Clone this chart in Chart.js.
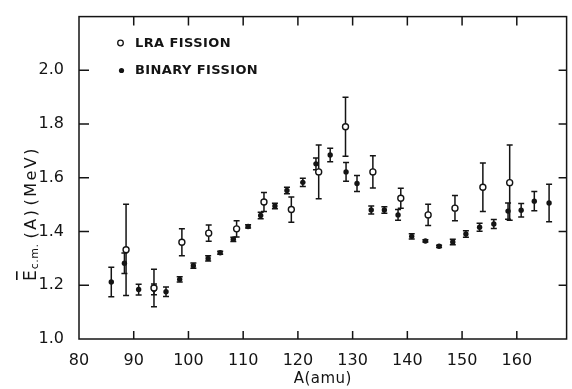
<!DOCTYPE html>
<html>
<head>
<meta charset="utf-8">
<script src="https://cdn.jsdelivr.net/npm/chart.js@4.4.0/dist/chart.umd.min.js"></script>
<style>
  html, body { margin: 0; padding: 0; background: #fff; }
  #wrap { width: 572px; height: 389px; }
</style>
</head>
<body>
<div id="wrap"><canvas id="myChart" width="572" height="389"></canvas></div>
<script>
// LRA fission (open circles)
const lraMass   = [88.6, 93.7, 98.8, 103.7, 108.8, 113.8, 118.8, 123.8, 128.7, 133.7, 138.8, 143.8, 148.7, 153.8, 158.7]
const lraEnergy = [1.332, 1.19, 1.36, 1.394, 1.41, 1.51, 1.482, 1.622, 1.79, 1.622, 1.524, 1.462, 1.487, 1.565, 1.582]
const lraErr    = [0.17, 0.07, 0.05, 0.03, 0.03, 0.035, 0.047, 0.1, 0.11, 0.06, 0.037, 0.04, 0.047, 0.09, 0.14]

// binary fission (filled dots)
const binMass   = [85.9, 88.3, 90.9, 93.7, 95.9, 98.4, 100.9, 103.6, 105.8, 108.2, 110.9, 113.2, 115.8, 118.0, 120.9,
                   123.3, 125.9, 128.8, 130.8, 133.4, 135.8, 138.3, 140.8, 143.3, 145.8, 148.3, 150.7, 153.2, 155.8,
                   158.4, 160.8, 163.2, 165.9]
const binEnergy = [1.212, 1.282, 1.184, 1.185, 1.176, 1.222, 1.273, 1.30, 1.321, 1.371, 1.419, 1.46, 1.495, 1.553, 1.583,
                   1.652, 1.685, 1.622, 1.579, 1.48, 1.48, 1.462, 1.382, 1.365, 1.345, 1.361, 1.391, 1.416, 1.428,
                   1.476, 1.479, 1.513, 1.506]
const binErr    = [0.055, 0.038, 0.02, 0.02, 0.018, 0.01, 0.01, 0.01, 0.006, 0.008, 0.006, 0.012, 0.01, 0.012, 0.015,
                   0.022, 0.025, 0.035, 0.03, 0.015, 0.012, 0.02, 0.01, 0.004, 0.004, 0.01, 0.012, 0.015, 0.017,
                   0.03, 0.025, 0.036, 0.07]

const xTicks = [80, 90, 100, 110, 120, 130, 140, 150, 160]
const yTicks = [1.0, 1.2, 1.4, 1.6, 1.8, 2.0]
const legendLabels = ["LRA FISSION", "BINARY FISSION"]
const xTitle = "A(amu)"

const toPoints = (xs, ys) => xs.map((v, i) => ({ x: v, y: ys[i] }))
const ink = '#141414'

const errorBars = {
  id: 'errorBars',
  beforeDatasetsDraw(chart) {
    const ctx = chart.ctx, xs = chart.scales.x, ys = chart.scales.y
    ctx.save()
    ctx.strokeStyle = ink
    ctx.lineWidth = 1.5
    chart.data.datasets.forEach(ds => {
      ds.data.forEach((p, i) => {
        const e = ds.errors[i]
        const px = xs.getPixelForValue(p.x)
        const top = ys.getPixelForValue(p.y + e)
        const bot = ys.getPixelForValue(p.y - e)
        ctx.beginPath()
        ctx.moveTo(px, top); ctx.lineTo(px, bot)
        ctx.moveTo(px - 3, top); ctx.lineTo(px + 3, top)
        ctx.moveTo(px - 3, bot); ctx.lineTo(px + 3, bot)
        ctx.stroke()
      })
    })
    ctx.restore()
  }
}

const frame = {
  id: 'frame',
  afterDraw(chart) {
    const ctx = chart.ctx, a = chart.chartArea
    const xs = chart.scales.x, ys = chart.scales.y
    ctx.save()
    ctx.strokeStyle = ink
    ctx.lineWidth = 1.5
    ctx.strokeRect(a.left, a.top, a.right - a.left, a.bottom - a.top)
    ctx.beginPath()
    xTicks.forEach(v => {
      const px = xs.getPixelForValue(v)
      if (v === xTicks[0]) return
      ctx.moveTo(px, a.bottom); ctx.lineTo(px, a.bottom - 8)
      ctx.moveTo(px, a.top); ctx.lineTo(px, a.top + 9)
    })
    yTicks.forEach(v => {
      const py = ys.getPixelForValue(v)
      if (v === yTicks[0]) return
      ctx.moveTo(a.left, py); ctx.lineTo(a.left + 10, py)
      ctx.moveTo(a.right, py); ctx.lineTo(a.right - 8, py)
    })
    ctx.stroke()

    // legend
    ctx.fillStyle = ink
    ctx.font = 'bold 13px "DejaVu Sans"'
    ctx.letterSpacing = '0.4px'
    ctx.textBaseline = 'middle'
    ctx.textAlign = 'left'
    ctx.lineWidth = 1.3
    ctx.beginPath(); ctx.arc(120.5, 43, 2.8, 0, Math.PI * 2); ctx.stroke()
    ctx.fillText(legendLabels[0], 135, 43.5)
    ctx.beginPath(); ctx.arc(121.5, 70.5, 2.6, 0, Math.PI * 2); ctx.fill()
    ctx.fillText(legendLabels[1], 135, 71)

    // x title
    ctx.letterSpacing = '0.5px'
    ctx.font = '15px "DejaVu Sans"'
    ctx.textAlign = 'center'
    ctx.fillText(xTitle, (a.left + a.right) / 2, 379)

    // y title: E-bar c.m. (A) (MeV)
    ctx.translate(36, 281)
    ctx.rotate(-Math.PI / 2)
    ctx.textAlign = 'left'
    ctx.textBaseline = 'alphabetic'
    ctx.letterSpacing = '0px'
    ctx.font = '17px "DejaVu Sans"'
    ctx.fillText('E', 0, 0)
    const wE = ctx.measureText('E').width
    ctx.fillRect(1, -20, wE - 2, 1.6)
    ctx.font = '11px "DejaVu Sans"'
    ctx.letterSpacing = '0.5px'
    ctx.fillText('c.m.', wE + 1, 2)
    const wS = ctx.measureText('c.m.').width
    ctx.font = '16px "DejaVu Sans"'
    ctx.letterSpacing = '2.5px'
    ctx.fillText('(A)', wE + wS + 6, 0)
    const wA = ctx.measureText('(A)').width
    ctx.fillText('(MeV)', wE + wS + wA + 8, 0)
    ctx.restore()
  }
}

new Chart(document.getElementById('myChart'), {
  type: 'scatter',
  data: {
    datasets: [
      {
        label: legendLabels[0],
        data: toPoints(lraMass, lraEnergy),
        errors: lraErr,
        pointStyle: 'circle',
        pointRadius: 3,
        pointBorderWidth: 1.4,
        pointBackgroundColor: '#fff',
        pointBorderColor: ink,
        order: 1
      },
      {
        label: legendLabels[1],
        data: toPoints(binMass, binEnergy),
        errors: binErr,
        pointStyle: 'circle',
        pointRadius: 2.7,
        pointBorderWidth: 0,
        pointBackgroundColor: ink,
        pointBorderColor: ink,
        order: 2
      }
    ]
  },
  options: {
    responsive: false,
    devicePixelRatio: 1,
    animation: false,
    layout: { padding: { left: 0, right: 1, top: 9, bottom: 0 } },
    plugins: {
      legend: { display: false },
      tooltip: { enabled: false }
    },
    scales: {
      x: {
        type: 'linear',
        min: 80,
        max: 169.1,
        grid: { display: false },
        border: { display: false },
        afterFit: (scale) => { scale.height = 50 },
        afterBuildTicks: (scale) => { scale.ticks = xTicks.map(v => ({ value: v })) },
        ticks: {
          padding: 4,
          color: ink,
          font: { family: 'DejaVu Sans', size: 16 },
          callback: (v) => String(v)
        }
      },
      y: {
        type: 'linear',
        min: 1.0,
        max: 2.2,
        grid: { display: false },
        border: { display: false },
        afterFit: (scale) => { scale.width = 79 },
        afterBuildTicks: (scale) => { scale.ticks = yTicks.map(v => ({ value: v })) },
        ticks: {
          padding: 7,
          color: ink,
          font: { family: 'DejaVu Sans', size: 16 },
          callback: (v) => v.toFixed(1)
        }
      }
    }
  },
  plugins: [errorBars, frame]
})
</script>
</body>
</html>
